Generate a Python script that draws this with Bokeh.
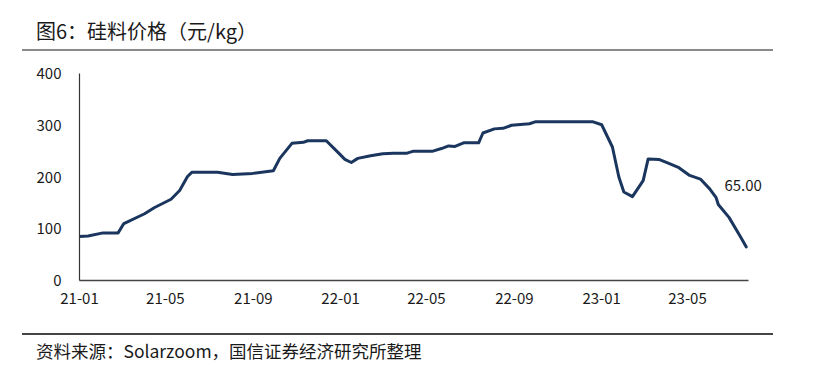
import pandas as pd
from bokeh.plotting import figure
from bokeh.models import Range1d, FixedTicker, Label, Div, DatetimeTickFormatter
from bokeh.layouts import column
from bokeh.embed import file_html
from bokeh.resources import INLINE

# ---- data ----
dates = [
    "2021-01-01", "2021-01-13", "2021-02-03", "2021-02-24", "2021-03-04", "2021-04-02",
    "2021-04-16", "2021-05-09", "2021-05-21", "2021-06-01", "2021-06-07", "2021-07-13",
    "2021-08-03", "2021-08-31", "2021-09-29", "2021-10-08", "2021-10-25", "2021-11-10",
    "2021-11-16", "2021-12-12", "2021-12-28", "2022-01-07", "2022-01-16", "2022-01-25",
    "2022-02-12", "2022-03-01", "2022-03-16", "2022-04-04", "2022-04-13", "2022-05-10",
    "2022-05-22", "2022-06-01", "2022-06-10", "2022-06-22", "2022-07-13", "2022-07-19",
    "2022-08-04", "2022-08-16", "2022-08-28", "2022-09-22", "2022-10-01", "2022-12-19",
    "2023-01-01", "2023-01-16", "2023-01-25", "2023-02-01", "2023-02-13", "2023-02-28",
    "2023-03-07", "2023-03-22", "2023-04-04", "2023-04-19", "2023-05-04", "2023-05-19",
    "2023-06-01", "2023-06-10", "2023-06-13", "2023-06-28", "2023-07-13", "2023-07-22",
]
prices = [
    85, 86, 92, 92, 110, 129,
    141, 157, 174, 201, 209, 209,
    205, 207, 212, 236, 265, 267,
    270, 270, 248, 234, 228, 236,
    241, 245, 246, 246, 250, 250,
    255, 260, 259, 266, 266, 285,
    293, 294, 300, 303, 307, 307,
    301, 258, 200, 171, 162, 193,
    235, 234, 227, 218, 203, 196,
    177, 160, 147, 122, 87, 65,
]
tick_dates = ["2021-01-01", "2021-05-01", "2021-09-01", "2022-01-01",
              "2022-05-01", "2022-09-01", "2023-01-01", "2023-05-01"]
tick_labels = ["21-01", "21-05", "21-09", "22-01", "22-05", "22-09", "23-01", "23-05"]
y_ticks = [0, 100, 200, 300, 400]

title_text = "图6：硅料价格（元/kg）"
source_text = "资料来源：Solarzoom，国信证券经济研究所整理"

FONT = "Noto Sans CJK SC"
LINE_COLOR = "#1B365E"

x = pd.to_datetime(dates)
tick_ms = [int(pd.Timestamp(d).value // 10**6) for d in tick_dates]
axis_start = pd.Timestamp("2021-01-01")
axis_end = pd.Timestamp("2023-07-25")

p = figure(width=838, height=280, output_backend="svg", toolbar_location=None,
           x_axis_type="datetime",
           x_range=Range1d(axis_start, pd.Timestamp("2023-09-01")),
           y_range=Range1d(0, 400),
           min_border_left=79, min_border_right=63, min_border_top=21, min_border_bottom=52,
           margin=0)
p.outline_line_color = None
p.xgrid.visible = False
p.ygrid.visible = False
p.background_fill_color = "white"
p.border_fill_color = "white"

p.line(x, prices, line_color=LINE_COLOR, line_width=3, line_join="round", line_cap="round")

xa = p.xaxis[0]
xa.bounds = (axis_start, axis_end)
xa.ticker = FixedTicker(ticks=tick_ms)
xa.formatter = DatetimeTickFormatter(months="%y-%m", days="%y-%m", years="%y-%m")
xa.major_label_overrides = {t: l for t, l in zip(tick_ms, tick_labels)}
xa.major_tick_line_color = None
xa.minor_tick_line_color = None
xa.major_tick_out = 0
xa.major_tick_in = 0
xa.major_label_standoff = 12
xa.axis_line_color = "#444444"
xa.axis_line_width = 1.5
xa.major_label_text_font = FONT
xa.major_label_text_font_size = "15px"
xa.major_label_text_color = "#1a1a1a"

ya = p.yaxis[0]
ya.ticker = FixedTicker(ticks=y_ticks)
ya.major_tick_line_color = None
ya.minor_tick_line_color = None
ya.major_tick_out = 0
ya.major_tick_in = 0
ya.major_label_standoff = 18
ya.axis_line_color = "#333333"
ya.axis_line_width = 1.2
ya.major_label_text_font = FONT
ya.major_label_text_font_size = "15px"
ya.major_label_text_color = "#1a1a1a"

p.add_layout(Label(x=x[-1], y=prices[-1], text=f"{prices[-1]:.2f}",
                   x_offset=-3, y_offset=61, text_align="center", text_baseline="middle",
                   text_font=FONT, text_font_size="15px", text_color="#1a1a1a"))

title_div = Div(width=838, height=52, margin=0, text=(
    '<div style="position:relative;width:838px;height:52px;">'
    f'<div style="position:absolute;left:36px;top:19px;font-family:\'{FONT}\';'
    f'font-size:20px;line-height:24px;color:#1a1a1a;white-space:nowrap;">{title_text}</div>'
    '<div style="position:absolute;left:22px;top:49px;width:751px;height:2px;background:#8a8a8a;"></div>'
    '</div>'))

src_div = Div(width=838, height=53, margin=0, text=(
    '<div style="position:relative;width:838px;height:53px;">'
    '<div style="position:absolute;left:22px;top:1px;width:751px;height:1.5px;background:#444444;"></div>'
    f'<div style="position:absolute;left:36px;top:8px;font-family:\'{FONT}\';'
    f'font-size:17.5px;line-height:22px;color:#1a1a1a;white-space:nowrap;">{source_text}</div>'
    '</div>'))

layout = column(title_div, p, src_div, spacing=0, margin=0)

open("out.html", "w").write(file_html(layout, INLINE))
